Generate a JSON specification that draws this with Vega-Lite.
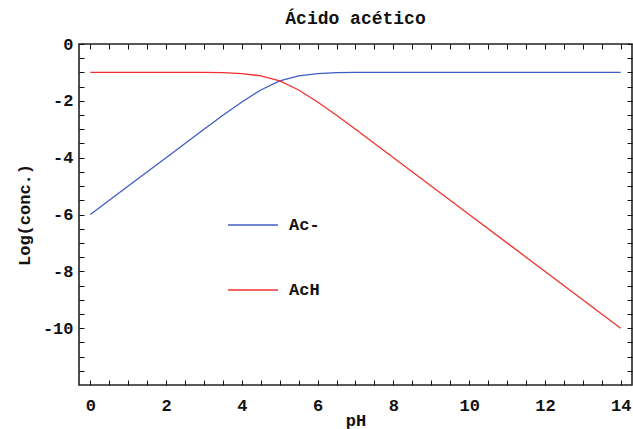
{
  "$schema": "https://vega.github.io/schema/vega-lite/v6.json",
  "width": 553,
  "height": 341,
  "autosize": {"type": "none"},
  "padding": {"left": 79, "top": 44, "right": 1, "bottom": 44},
  "background": "white",
  "title": {"text": "Ácido acético", "font": "Liberation Mono", "fontSize": 18, "fontWeight": "bold", "color": "#111", "offset": 7, "anchor": "middle"},
  "data": {"values": [
    {"series": "Ac-", "pH": 0, "logc": -6.0},
    {"series": "Ac-", "pH": 1, "logc": -5.0},
    {"series": "Ac-", "pH": 2, "logc": -4.0},
    {"series": "Ac-", "pH": 3, "logc": -3.0},
    {"series": "Ac-", "pH": 3.5, "logc": -2.51},
    {"series": "Ac-", "pH": 4, "logc": -2.04},
    {"series": "Ac-", "pH": 4.5, "logc": -1.62},
    {"series": "Ac-", "pH": 5, "logc": -1.3},
    {"series": "Ac-", "pH": 5.5, "logc": -1.12},
    {"series": "Ac-", "pH": 6, "logc": -1.04},
    {"series": "Ac-", "pH": 6.5, "logc": -1.01},
    {"series": "Ac-", "pH": 7, "logc": -1.0},
    {"series": "Ac-", "pH": 14, "logc": -1.0},
    {"series": "AcH", "pH": 0, "logc": -1.0},
    {"series": "AcH", "pH": 3, "logc": -1.0},
    {"series": "AcH", "pH": 3.5, "logc": -1.01},
    {"series": "AcH", "pH": 4, "logc": -1.04},
    {"series": "AcH", "pH": 4.5, "logc": -1.12},
    {"series": "AcH", "pH": 5, "logc": -1.3},
    {"series": "AcH", "pH": 5.5, "logc": -1.62},
    {"series": "AcH", "pH": 6, "logc": -2.04},
    {"series": "AcH", "pH": 6.5, "logc": -2.51},
    {"series": "AcH", "pH": 7, "logc": -3.0},
    {"series": "AcH", "pH": 10, "logc": -6.0},
    {"series": "AcH", "pH": 14, "logc": -10.0}
  ]},
  "resolve": {"axis": {"x": "independent", "y": "independent"}},
  "layer": [
    {
      "mark": {"type": "line", "strokeWidth": 1.3, "clip": true},
      "encoding": {
        "x": {"field": "pH", "type": "quantitative", "scale": {"domain": [-0.3, 14.3], "nice": false, "zero": false},
          "axis": {"orient": "bottom", "title": "pH", "values": [0,0.5,1,1.5,2,2.5,3,3.5,4,4.5,5,5.5,6,6.5,7,7.5,8,8.5,9,9.5,10,10.5,11,11.5,12,12.5,13,13.5,14],
            "labelExpr": "datum.value % 2 === 0 ? format(datum.value, 'd') : ''", "ticks": true, "tickSize": -5, "labelPadding": 17, "titlePadding": -1, "zindex": 1}},
        "y": {"field": "logc", "type": "quantitative", "scale": {"domain": [-12, 0], "nice": false, "zero": false},
          "axis": {"orient": "left", "title": "Log(conc.)", "values": [-11.5,-11,-10.5,-10,-9.5,-9,-8.5,-8,-7.5,-7,-6.5,-6,-5.5,-5,-4.5,-4,-3.5,-3,-2.5,-2,-1.5,-1,-0.5,0],
            "labelExpr": "datum.value % 2 === 0 ? replace(format(datum.value, 'd'), '−', '-') : ''", "ticks": true, "tickSize": -5, "labelPadding": 11, "titlePadding": 9, "zindex": 1}},
        "color": {"field": "series", "type": "nominal", "scale": {"domain": ["Ac-", "AcH"], "range": ["#3d5cc4", "#f23030"]},
          "legend": {"orient": "none", "legendX": 148, "legendY": 155, "title": null, "symbolType": "stroke", "symbolSize": 2500, "symbolStrokeWidth": 1.3, "rowPadding": 31, "labelOffset": 10, "padding": 0,
            "labelFont": "Liberation Mono", "labelFontSize": 17, "labelFontWeight": "bold", "labelColor": "#111"}}
      }
    },
    {
      "mark": {"type": "line", "opacity": 0},
      "encoding": {
        "x": {"field": "pH", "type": "quantitative",
          "axis": {"orient": "top", "title": null, "labels": false, "values": [0,0.5,1,1.5,2,2.5,3,3.5,4,4.5,5,5.5,6,6.5,7,7.5,8,8.5,9,9.5,10,10.5,11,11.5,12,12.5,13,13.5,14],
            "ticks": true, "tickSize": -5, "zindex": 1}},
        "y": {"field": "logc", "type": "quantitative",
          "axis": {"orient": "right", "title": null, "labels": false, "values": [-11.5,-11,-10.5,-10,-9.5,-9,-8.5,-8,-7.5,-7,-6.5,-6,-5.5,-5,-4.5,-4,-3.5,-3,-2.5,-2,-1.5,-1,-0.5,0],
            "ticks": true, "tickSize": -5, "zindex": 1}},
        "detail": {"field": "series"}
      }
    }
  ],
  "config": {
    "view": {"stroke": "#222", "strokeWidth": 1.6},
    "axis": {"grid": false, "domain": false, "tickColor": "#111", "tickWidth": 1,
      "labelFont": "Liberation Mono", "labelFontSize": 17, "labelFontWeight": "bold", "labelColor": "#111",
      "titleFont": "Liberation Mono", "titleFontSize": 17, "titleFontWeight": "bold", "titleColor": "#111"}
  }
}
